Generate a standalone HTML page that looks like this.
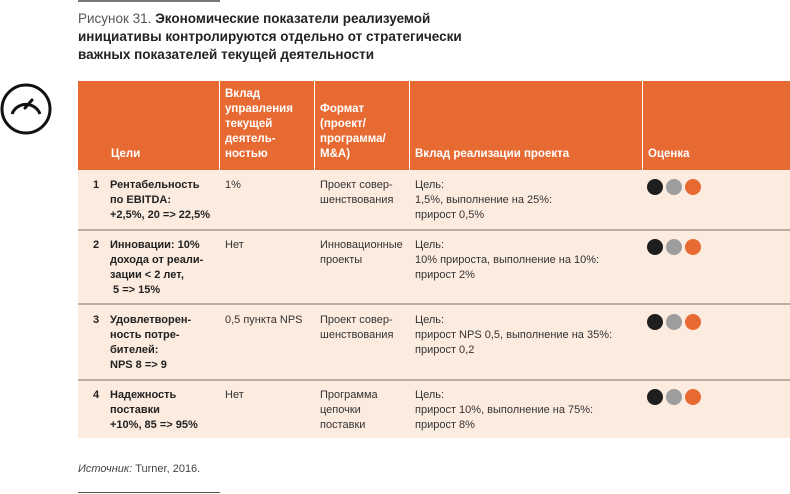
<!DOCTYPE html>
<html><head><meta charset="utf-8"><style>
body{margin:0;width:790px;height:494px;background:#fff;position:relative;overflow:hidden;font-family:"Liberation Sans","DejaVu Sans",sans-serif;}
.a{position:absolute}
.t{font-size:13.5px;line-height:18px;color:#222;font-weight:bold;left:78px;top:10px;width:600px}
.t span{font-weight:normal;color:#555}
.h{background:#e86a33;top:81px;height:89px}
.hc{color:#fff;font-weight:bold;font-size:11.5px;line-height:15px;bottom:8px;position:absolute}
.body{background:#fcebdf;left:78px;top:170px;width:712px;height:268px}
.ln{left:78px;width:712px;height:2px;background:#b9aca3}
.c{font-size:11px;line-height:15px;color:#333}
.b{font-weight:bold;color:#222}
.dot{position:absolute;width:16px;height:16px;border-radius:50%}
</style></head><body>
<div class="a" style="left:78px;top:0;width:142px;height:2px;background:#777"></div>
<div class="a t"><span>Рисунок 31.</span> Экономические показатели реализуемой<br>инициативы контролируются отдельно от стратегически<br>важных показателей текущей деятельности</div>
<svg class="a" style="left:0;top:82px" width="56" height="56" viewBox="0 0 56 56"><circle cx="26" cy="27" r="24" fill="none" stroke="#111" stroke-width="3"/><path d="M12 32 A15 15 0 0 1 40 32" fill="none" stroke="#111" stroke-width="3"/><line x1="25" y1="26" x2="32" y2="18" stroke="#111" stroke-width="3" stroke-linecap="round"/></svg>
<div class="a h" style="left:78px;width:141px"><div class="hc" style="left:33px">Цели</div></div>
<div class="a h" style="left:220px;width:94px"><div class="hc" style="left:5px">Вклад<br>управления<br>текущей<br>деятель-<br>ностью</div></div>
<div class="a h" style="left:315px;width:94px"><div class="hc" style="left:5px">Формат<br>(проект/<br>программа/<br>M&amp;A)</div></div>
<div class="a h" style="left:410px;width:232px"><div class="hc" style="left:5px">Вклад реализации проекта</div></div>
<div class="a h" style="left:643px;width:147px"><div class="hc" style="left:5px">Оценка</div></div>
<div class="a body"></div>
<div class="a ln" style="top:229px"></div>
<div class="a ln" style="top:303px"></div>
<div class="a ln" style="top:379px"></div>

<div class="a c b" style="left:93px;top:178px">1</div>
<div class="a c b" style="left:110px;top:178px">Рентабельность<br>по EBITDA:<br>+2,5%, 20 =&gt; 22,5%</div>
<div class="a c" style="left:225px;top:178px">1%</div>
<div class="a c" style="left:320px;top:178px">Проект совер-<br>шенствования</div>
<div class="a c" style="left:415px;top:178px">Цель:<br>1,5%, выполнение на 25%:<br>прирост 0,5%</div>

<div class="a c b" style="left:93px;top:238px">2</div>
<div class="a c b" style="left:110px;top:238px">Инновации: 10%<br>дохода от реали-<br>зации &lt; 2 лет,<br>&nbsp;5 =&gt; 15%</div>
<div class="a c" style="left:225px;top:238px">Нет</div>
<div class="a c" style="left:320px;top:238px">Инновационные<br>проекты</div>
<div class="a c" style="left:415px;top:238px">Цель:<br>10% прироста, выполнение на 10%:<br>прирост 2%</div>

<div class="a c b" style="left:93px;top:313px">3</div>
<div class="a c b" style="left:110px;top:313px">Удовлетворен-<br>ность потре-<br>бителей:<br>NPS 8 =&gt; 9</div>
<div class="a c" style="left:225px;top:313px">0,5 пункта NPS</div>
<div class="a c" style="left:320px;top:313px">Проект совер-<br>шенствования</div>
<div class="a c" style="left:415px;top:313px">Цель:<br>прирост NPS 0,5, выполнение на 35%:<br>прирост 0,2</div>

<div class="a c b" style="left:93px;top:388px">4</div>
<div class="a c b" style="left:110px;top:388px">Надежность<br>поставки<br>+10%, 85 =&gt; 95%</div>
<div class="a c" style="left:225px;top:388px">Нет</div>
<div class="a c" style="left:320px;top:388px">Программа<br>цепочки<br>поставки</div>
<div class="a c" style="left:415px;top:388px">Цель:<br>прирост 10%, выполнение на 75%:<br>прирост 8%</div>

<div class="a" style="left:647px;top:179px"><div class="dot" style="left:0;background:#1e1e1e"></div><div class="dot" style="left:19px;background:#9d9d9d"></div><div class="dot" style="left:38px;background:#e86a33"></div></div>
<div class="a" style="left:647px;top:239px"><div class="dot" style="left:0;background:#1e1e1e"></div><div class="dot" style="left:19px;background:#9d9d9d"></div><div class="dot" style="left:38px;background:#e86a33"></div></div>
<div class="a" style="left:647px;top:314px"><div class="dot" style="left:0;background:#1e1e1e"></div><div class="dot" style="left:19px;background:#9d9d9d"></div><div class="dot" style="left:38px;background:#e86a33"></div></div>
<div class="a" style="left:647px;top:389px"><div class="dot" style="left:0;background:#1e1e1e"></div><div class="dot" style="left:19px;background:#9d9d9d"></div><div class="dot" style="left:38px;background:#e86a33"></div></div>

<div class="a c" style="left:78px;top:462px;color:#444"><i>Источник:</i> Turner, 2016.</div>
<div class="a" style="left:78px;top:492px;width:142px;height:1px;background:#555"></div>
</body></html>
